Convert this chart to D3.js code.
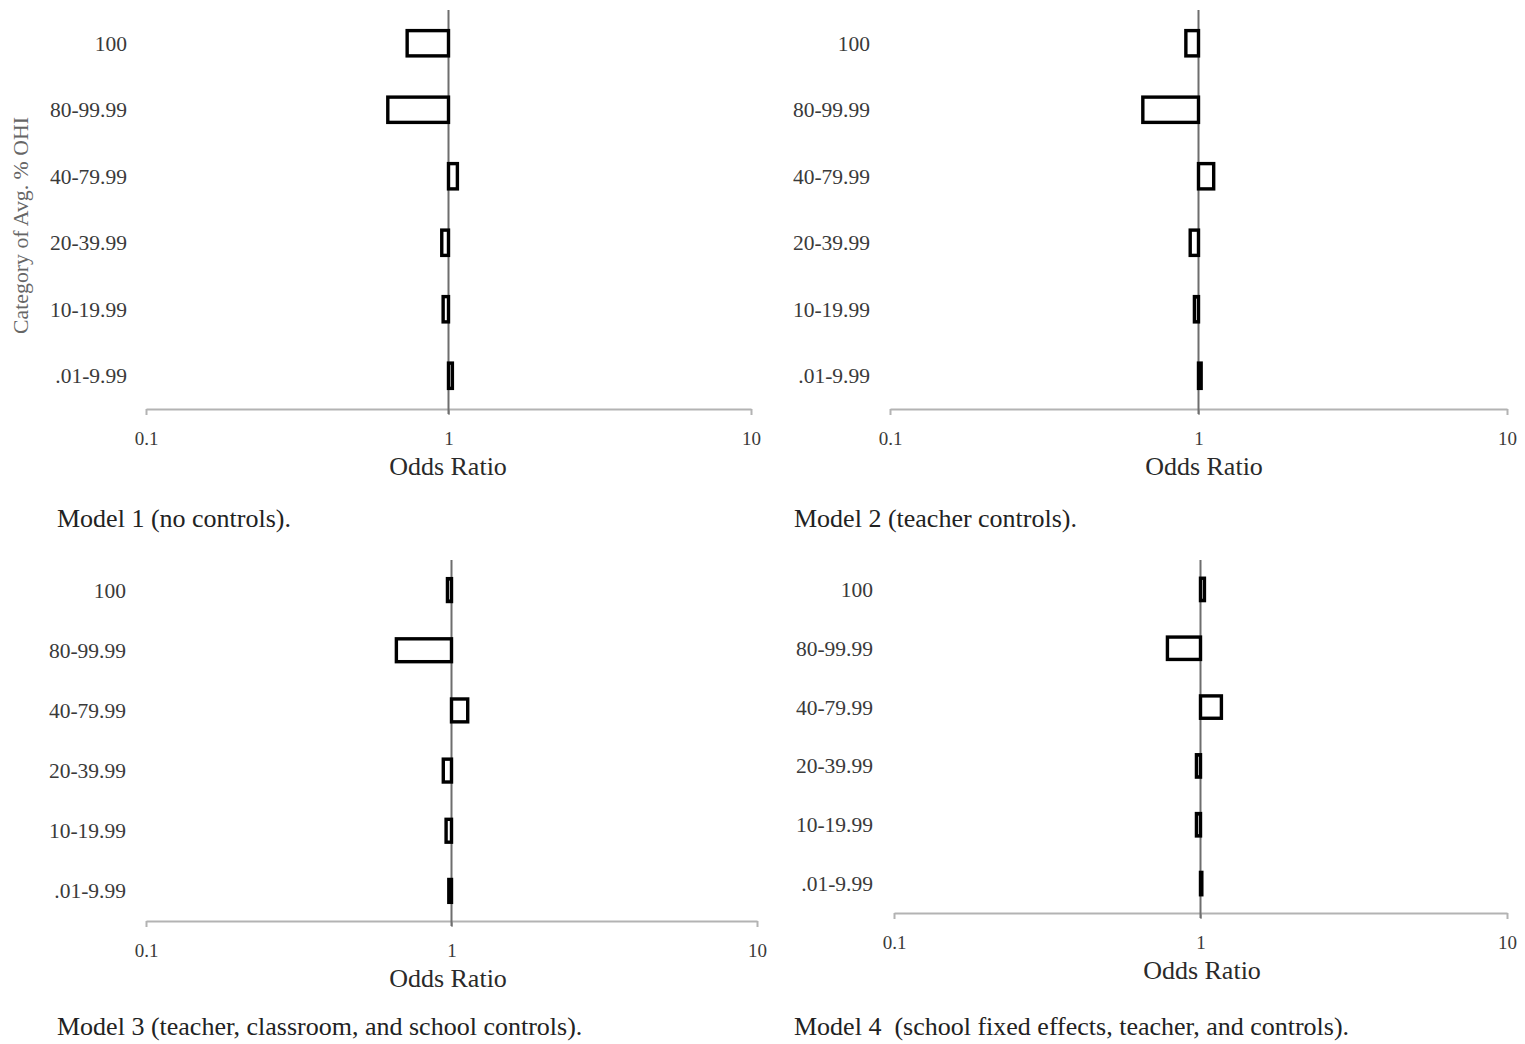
<!DOCTYPE html>
<html>
<head>
<meta charset="utf-8">
<script src="https://cdn.jsdelivr.net/npm/d3@7"></script>
<style>
  html, body { margin: 0; padding: 0; background: #fff; }
  svg { display: block; }
  text { font-family: "Liberation Serif", "Times New Roman", serif; }
</style>
</head>
<body>
<svg id="chart" width="1525" height="1044"></svg>
<script>
// ---- data ----
const categories = ["100", "80-99.99", "40-79.99", "20-39.99", "10-19.99", ".01-9.99"];
const model1 = [0.73, 0.63, 1.07, 0.95, 0.96, 1.03];
const model2 = [0.91, 0.66, 1.12, 0.94, 0.97, 1.02];
const model3 = [0.97, 0.66, 1.13, 0.94, 0.96, 0.98];
const model4 = [1.03, 0.78, 1.17, 0.97, 0.97, 1.01];
const tickValues = [0.1, 1, 10];
const tickLabels = ["0.1", "1", "10"];
const captions = [
  "Model 1 (no controls).",
  "Model 2 (teacher controls).",
  "Model 3 (teacher, classroom, and school controls).",
  "Model 4  (school fixed effects, teacher, and controls)."
];
const xTitle = "Odds Ratio";
const yTitle = "Category of Avg. % OHI";

// ---- layout ----
const panels = [
  { values: model1, caption: captions[0], x0: 146, x1: 751, top: 10, bottom: 409, labelX: 127, titleX: 448, capX: 57, capY: 527, yTitle: true },
  { values: model2, caption: captions[1], x0: 890, x1: 1507, top: 10, bottom: 409, labelX: 870, titleX: 1204, capX: 794, capY: 527, yTitle: false },
  { values: model3, caption: captions[2], x0: 146, x1: 757, top: 560, bottom: 921, labelX: 126, titleX: 448, capX: 57, capY: 1035, yTitle: false },
  { values: model4, caption: captions[3], x0: 894, x1: 1507, top: 560, bottom: 913, labelX: 873, titleX: 1202, capX: 794, capY: 1035, yTitle: false }
];

const svg = d3.select("#chart");

panels.forEach(p => {
  const g = svg.append("g");
  const x = d3.scaleLog().domain([0.1, 10]).range([p.x0, p.x1]);
  const y = d3.scaleBand().domain(categories).range([p.top, p.bottom])
    .paddingInner(0.62).paddingOuter(0.31);

  // horizontal axis
  const ax = g.append("g").attr("transform", `translate(0,${p.bottom})`)
    .call(d3.axisBottom(x).tickValues(tickValues).tickSize(6).tickSizeOuter(0)
      .tickFormat((d, i) => tickLabels[i]));
  ax.select(".domain").attr("stroke", "#b3b3b3").attr("stroke-width", 2);
  ax.selectAll(".tick line").attr("stroke", "#b3b3b3").attr("stroke-width", 2);
  ax.selectAll(".tick text")
    .attr("font-family", "Liberation Serif, serif")
    .attr("font-size", 19).attr("fill", "#3a3a3a").attr("dy", "1.4em");

  // vertical axis at OR = 1
  g.append("line")
    .attr("x1", x(1)).attr("x2", x(1))
    .attr("y1", p.top).attr("y2", p.bottom + 5)
    .attr("stroke", "#6e6e6e").attr("stroke-width", 2);

  // category labels
  g.selectAll("text.cat").data(categories).join("text")
    .attr("class", "cat")
    .attr("x", p.labelX)
    .attr("y", d => y(d) + y.bandwidth() / 2)
    .attr("dy", "0.35em")
    .attr("text-anchor", "end")
    .attr("font-size", 21.5)
    .attr("fill", "#3a3a3a")
    .text(d => d);

  // bars
  g.selectAll("rect.bar").data(p.values).join("rect")
    .attr("class", "bar")
    .attr("x", d => Math.min(x(d), x(1)))
    .attr("width", d => Math.abs(x(d) - x(1)))
    .attr("y", (d, i) => y(categories[i]))
    .attr("height", y.bandwidth())
    .attr("fill", "#fff")
    .attr("stroke", "#000")
    .attr("stroke-width", 3.4);

  // x title
  g.append("text")
    .attr("x", p.titleX)
    .attr("y", p.bottom + 66)
    .attr("text-anchor", "middle")
    .attr("font-size", 26)
    .attr("fill", "#2a2a2a")
    .text(xTitle);

  // caption
  g.append("text")
    .attr("x", p.capX)
    .attr("y", p.capY)
    .attr("font-size", 26)
    .attr("fill", "#222")
    .style("white-space", "pre")
    .text(p.caption);

  if (p.yTitle) {
    g.append("text")
      .attr("transform", `translate(28,${(p.top + p.bottom) / 2 + 16}) rotate(-90)`)
      .attr("text-anchor", "middle")
      .attr("font-size", 21.8)
      .attr("fill", "#666")
      .text(yTitle);
  }
});
</script>
</body>
</html>
